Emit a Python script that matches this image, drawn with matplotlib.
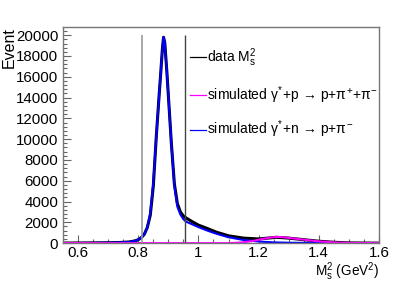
import matplotlib
matplotlib.use('Agg')
import matplotlib.pyplot as plt
from matplotlib.ticker import MultipleLocator

plt.rcParams['font.family'] = ['Liberation Sans', 'DejaVu Sans']
plt.rcParams['mathtext.fontset'] = 'custom'
plt.rcParams['mathtext.rm'] = 'Liberation Sans'
plt.rcParams['mathtext.it'] = 'Liberation Sans'
plt.rcParams['mathtext.bf'] = 'Liberation Sans:bold'

# M_s^2 points (GeV^2) and counts
x_data = [0.55, 0.60, 0.65, 0.70, 0.74, 0.77, 0.79, 0.80, 0.81, 0.82, 0.83, 0.84,
          0.85, 0.86, 0.87, 0.875, 0.88, 0.884, 0.888, 0.895, 0.90, 0.91, 0.92,
          0.93, 0.94, 0.95, 0.96, 0.98, 1.00, 1.03, 1.06, 1.10, 1.15, 1.20, 1.23,
          1.26, 1.30, 1.35, 1.40, 1.45, 1.50, 1.55, 1.60]
y_data = [5, 10, 20, 35, 60, 110, 220, 330, 520, 850, 1500, 2700,
          5500, 10300, 14500, 16500, 18600, 19800, 19300, 16500, 14200, 9600, 5700,
          3800, 3000, 2600, 2400, 2050, 1730, 1400, 1050, 700, 480, 400, 480,
          560, 480, 330, 180, 80, 20, 5, 0]

x_n = [0.55, 0.60, 0.65, 0.70, 0.74, 0.77, 0.79, 0.80, 0.81, 0.82, 0.83, 0.84,
       0.85, 0.86, 0.87, 0.875, 0.88, 0.884, 0.888, 0.895, 0.90, 0.91, 0.92,
       0.93, 0.94, 0.95, 0.96, 0.98, 1.00, 1.03, 1.06, 1.10, 1.15, 1.20, 1.25,
       1.30, 1.40, 1.50, 1.60]
y_n = [5, 10, 20, 35, 60, 110, 220, 330, 520, 850, 1500, 2900,
       5800, 10300, 14500, 16500, 18600, 19800, 19300, 16500, 14200, 9600, 5500,
       3500, 2750, 2300, 2050, 1800, 1540, 1200, 900, 560, 300, 150, 70,
       35, 10, 3, 0]

x_p = [0.55, 1.10, 1.12, 1.15, 1.18, 1.21, 1.24, 1.26, 1.28, 1.31, 1.35, 1.40,
       1.45, 1.50, 1.55, 1.60]
y_p = [0, 0, 20, 80, 200, 380, 540, 590, 570, 470, 330, 170,
       70, 15, 0, 0]

cut_lo, cut_hi = 0.813, 0.957
cut_top = 20000

labels = [r'data M$_{\mathrm{s}}^{2}$',
          r'simulated $\gamma^{*}$+p$\,\rightarrow\,$p+$\pi^{+}$+$\pi^{-}$',
          r'simulated $\gamma^{*}$+n$\,\rightarrow\,$p+$\pi^{-}$']
colors = ['black', '#ff00ff', '#0000ff']

fig = plt.figure(figsize=(4.15, 2.84), dpi=100)
ax = fig.add_axes([0.152, 0.144, 0.761, 0.761])

ax.plot(x_data, y_data, color=colors[0], lw=2.2)
ax.plot(x_n, y_n, color=colors[2], lw=1.5)
ax.plot(x_p, y_p, color=colors[1], lw=1.5)

ax.vlines(cut_lo, 0, cut_top, color='#999999', lw=1.2)
ax.vlines(cut_hi, 0, cut_top, color='#444444', lw=1.0)

ax.set_xlim(0.55, 1.6)
ax.set_ylim(0, 20790)
ax.xaxis.set_minor_locator(MultipleLocator(0.05))
ax.yaxis.set_major_locator(MultipleLocator(2000))
ax.yaxis.set_minor_locator(MultipleLocator(400))
ax.set_xticks([0.6, 0.8, 1.0, 1.2, 1.4, 1.6])
ax.set_xticklabels(['0.6', '0.8', '1', '1.2', '1.4', '1.6'])
ax.tick_params(which='both', direction='in', colors='#666666', labelcolor='black',
               labelsize=10.8, top=False, right=False)
ax.tick_params(which='major', length=6, width=0.8)
ax.tick_params(which='minor', length=3, width=0.8)
ax.tick_params(axis='x', pad=2)
for s in ax.spines.values():
    s.set_color('#777777')
    s.set_linewidth(1.0)

fig.text(0.022, 0.905, 'Event', rotation=90, ha='center', va='top', fontsize=11.5)
fig.text(0.913, 0.004, r'M$_{\mathrm{s}}^{2}$ (GeV$^{2}$)', ha='right', va='bottom',
         fontsize=9.8)

# legend drawn by hand, no frame
rows_y = [0.86, 0.685, 0.525]
for lab, col, yy in zip(labels, colors, rows_y):
    ax.plot([0.403, 0.452], [yy, yy], color=col, lw=0.9, transform=ax.transAxes,
            clip_on=False)
    ax.text(0.455, yy, lab, transform=ax.transAxes, fontsize=10, va='center', ha='left')

fig.savefig('out.png', dpi=100)
